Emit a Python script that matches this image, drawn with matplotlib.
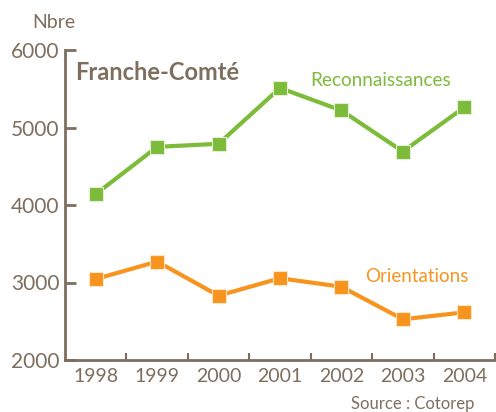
import matplotlib
matplotlib.use("Agg")
import matplotlib.pyplot as plt

annees = ["1998", "1999", "2000", "2001", "2002", "2003", "2004"]
reconnaissances = [4140, 4750, 4790, 5510, 5220, 4690, 5260]
orientations = [3045, 3270, 2830, 3055, 2945, 2525, 2615]

vert = "#7dbb3a"
orange = "#f7941d"
brun = "#7d6e5e"

plt.rcParams["font.family"] = ["Lato", "DejaVu Sans"]

fig = plt.figure(figsize=(4.96, 4.12), dpi=100)
ax = fig.add_axes([65 / 496, 52 / 412, 430 / 496, 310 / 412])

x = range(len(annees))
ax.plot(x, reconnaissances, color=vert, lw=3, marker="s", ms=10,
        mec="#e4f0d4", mew=0.8, clip_on=False)
ax.plot(x, orientations, color=orange, lw=3, marker="s", ms=10,
        mec="#fde6c8", mew=0.8, clip_on=False)

ax.set_xlim(-0.5, len(annees) - 0.5)
ax.set_ylim(2000, 6000)
ax.set_yticks([2000, 3000, 4000, 5000, 6000])
ax.set_xticks(x)
ax.set_xticklabels(annees)
ax.set_xticks([i + 0.5 for i in x], minor=True)

for s in ["top", "right"]:
    ax.spines[s].set_visible(False)
for s in ["left", "bottom"]:
    ax.spines[s].set_color(brun)
    ax.spines[s].set_linewidth(2)

ax.tick_params(axis="y", direction="in", length=8, width=2, color=brun,
               labelcolor=brun, labelsize=15, pad=4)
ax.tick_params(axis="x", which="major", length=0, labelcolor=brun,
               labelsize=14, pad=6)
ax.tick_params(axis="x", which="minor", direction="in", length=5, width=1.5,
               color=brun)

fig.text(54 / 496, 1 - 22 / 412, "Nbre", color=brun, fontsize=14,
         ha="center", va="center")
fig.text(75 / 496, 1 - 72 / 412, "Franche-Comté", color=brun, fontsize=17,
         fontweight="bold", ha="left", va="center")
fig.text(381 / 496, 1 - 80 / 412, "Reconnaissances", color=vert, fontsize=13.7,
         ha="center", va="center")
fig.text(417 / 496, 1 - 277 / 412, "Orientations", color=orange, fontsize=13.5,
         ha="center", va="center")
fig.text(474 / 496, 1 - 404 / 412, "Source : Cotorep", color=brun,
         fontsize=12, ha="right", va="center")

fig.savefig("out.png", dpi=100)
